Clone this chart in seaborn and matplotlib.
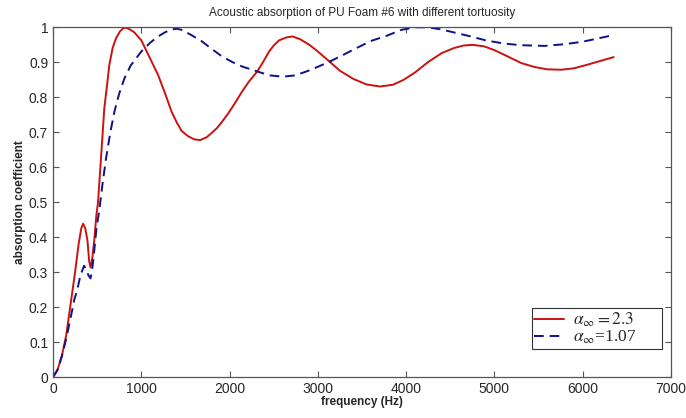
import pandas as pd
import numpy as np
import matplotlib.pyplot as plt
import seaborn as sns

# values
freq_a = [0, 50, 100, 150, 200, 250, 290, 320, 341, 365, 390, 410, 425, 445, 467, 490, 510, 543, 581,
          610, 638, 675, 714, 760, 800, 830, 870, 920, 1000, 1100, 1190, 1270, 1343, 1400, 1457, 1530,
          1600, 1667, 1740, 1800, 1860, 1914, 1990, 2067, 2140, 2219, 2314, 2380, 2448, 2500, 2562, 2640,
          2714, 2800, 2905, 3000, 3133, 3250, 3400, 3550, 3705, 3850, 3971, 4100, 4250, 4400, 4543, 4650,
          4752, 4880, 5000, 5150, 5305, 5450, 5600, 5762, 5900, 6050, 6200, 6352]
alpha_a = [0, 0.02, 0.06, 0.12, 0.21, 0.3, 0.38, 0.425, 0.438, 0.425, 0.39, 0.33, 0.313, 0.34, 0.39,
           0.46, 0.5, 0.624, 0.768, 0.83, 0.892, 0.94, 0.968, 0.988, 0.997, 0.998, 0.993, 0.985, 0.962,
           0.91, 0.863, 0.81, 0.758, 0.728, 0.703, 0.688, 0.679, 0.677, 0.685, 0.698, 0.712, 0.729, 0.755,
           0.785, 0.815, 0.844, 0.873, 0.9, 0.93, 0.947, 0.962, 0.97, 0.973, 0.965, 0.949, 0.93, 0.901,
           0.875, 0.852, 0.836, 0.83, 0.835, 0.849, 0.87, 0.9, 0.925, 0.94, 0.947, 0.949, 0.945, 0.934,
           0.916, 0.897, 0.886, 0.879, 0.878, 0.882, 0.892, 0.903, 0.914]

freq_b = [0, 50, 100, 150, 200, 240, 276, 310, 352, 380, 402, 425, 445, 467, 490, 524, 560, 600, 650,
          695, 750, 810, 880, 940, 1000, 1100, 1190, 1270, 1343, 1400, 1457, 1560, 1686, 1800, 1914, 2030,
          2143, 2314, 2450, 2600, 2750, 2924, 3133, 3300, 3400, 3600, 3781, 3950, 4100, 4250, 4400, 4550,
          4733, 4900, 5100, 5300, 5571, 5800, 6000, 6150, 6333]
alpha_b = [0, 0.02, 0.06, 0.11, 0.17, 0.22, 0.251, 0.29, 0.318, 0.305, 0.29, 0.282, 0.31, 0.361, 0.42,
           0.476, 0.55, 0.624, 0.7, 0.758, 0.81, 0.854, 0.89, 0.91, 0.93, 0.955, 0.973, 0.985, 0.993,
           0.995, 0.992, 0.978, 0.959, 0.937, 0.916, 0.9, 0.887, 0.873, 0.862, 0.858, 0.862, 0.878, 0.901,
           0.922, 0.935, 0.96, 0.975, 0.992, 0.999, 0.999, 0.993, 0.984, 0.973, 0.962, 0.953, 0.948,
           0.946, 0.951, 0.958, 0.966, 0.976]

labels = [r'$\alpha_\infty = 2.3$', r'$\alpha_\infty$=1.07']

sns.set_style('ticks')
plt.rcParams['font.family'] = ['Liberation Sans', 'DejaVu Sans']
plt.rcParams['mathtext.fontset'] = 'stix'

fig = plt.figure(figsize=(6.86, 4.18), dpi=100)
ax = fig.add_axes([0.0773, 0.098, 0.9007, 0.8374])

df_a = pd.DataFrame({'f': freq_a, 'a': alpha_a})
df_b = pd.DataFrame({'f': freq_b, 'a': alpha_b})
sns.lineplot(x='f', y='a', data=df_a, ax=ax, color='#cc1111', lw=1.4, sort=False, label=labels[0])
sns.lineplot(x='f', y='a', data=df_b, ax=ax, color='#10108a', lw=1.4, ls=(0, (5, 3)), sort=False,
             label=labels[1])

ax.set_xlim(0, 7000)
ax.set_ylim(0, 1)
ax.set_xticks(np.arange(0, 7001, 1000))
ax.set_yticks(np.arange(0, 1.01, 0.1))
ax.set_yticklabels(['0', '0.1', '0.2', '0.3', '0.4', '0.5', '0.6', '0.7', '0.8', '0.9', '1'])
ax.tick_params(direction='in', top=True, right=True, labelsize=10, length=4, color='#555555')
for s in ax.spines.values():
    s.set_color('#555555')
    s.set_linewidth(0.9)

ax.set_xlabel('frequency (Hz)', fontsize=8.5, fontweight='bold', labelpad=0)
ax.set_ylabel('absorption coefficient', fontsize=8.5, fontweight='bold', labelpad=2)
ax.set_title('Acoustic absorption of PU Foam #6 with different tortuosity', fontsize=8.5, pad=8)

leg = ax.legend(loc='lower left', bbox_to_anchor=(0.775, 0.08, 0.21, 0.107), mode='expand',
                prop={'family': 'Liberation Serif', 'size': 12.5}, frameon=True,
                fancybox=False, edgecolor='black', borderpad=0.15, handlelength=1.7,
                handletextpad=0.5, labelspacing=0.0, borderaxespad=0.0)
leg.get_frame().set_linewidth(0.8)

fig.savefig('out.png', dpi=100)
